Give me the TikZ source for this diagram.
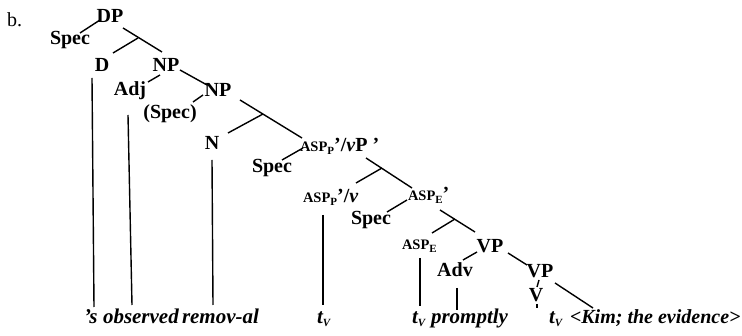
\documentclass[tikz,border=0pt]{standalone}
\usepackage{fontspec}
\setmainfont{Liberation Serif}
\usetikzlibrary{calc}
\newcommand\myasp{{\fontsize{14.5}{14.5}\selectfont ASP}}
\newcommand\mysub[1]{\raisebox{-2.5pt}{\fontsize{11}{11}\selectfont #1}}
\newcommand\mytv{\textit{t}\mysub{\textit{V}}}
\begin{document}
\begin{tikzpicture}[x=1pt,y=-1pt,
  every node/.style={inner sep=0pt,outer sep=0pt,font=\fontsize{20}{24}\selectfont\bfseries},
  lab/.style={anchor=base},
  labw/.style={anchor=base west},
  word/.style={anchor=base west,font=\fontsize{21}{24}\selectfont\bfseries\itshape},
  edge/.style={line width=1.4pt}]
\useasboundingbox (0,0) rectangle (742,336);
% labels
\node[labw,font=\fontsize{20}{24}\selectfont] (b) at (7,27) {b.};
\node[lab] (DP) at (110,23) {DP};
\node[lab] (S1) at (70,45) {Spec};
\node[lab] (D) at (102,72) {D};
\node[lab] (NP1) at (166,72) {NP};
\node[lab] (Adj) at (130,96) {Adj};
\node[lab] (NP2) at (218,97) {NP};
\node[lab] (PS) at (170,119) {(Spec)};
\node[lab] (N) at (212,150) {N};
\node[labw] (AvP) at (300,152) {\myasp\mysub{P}'/\textit{v}P '};
\node[lab] (S2) at (272,173) {Spec};
\node[labw] (Av) at (303,203) {\myasp\mysub{P}'/\textit{v}};
\node[labw] (AE1) at (408,201) {\myasp\mysub{E}'};
\node[lab] (S3) at (371,225) {Spec};
\node[labw] (AE) at (402,250) {\myasp\mysub{E}};
\node[lab] (VP1) at (490,253) {VP};
\node[lab] (Adv) at (455,277) {Adv};
\node[lab] (VP2) at (540,278) {VP};
\node[lab] (V) at (536,302) {V};
% words
\node[word] (w1) at (84,324) {'s};
\node[word] (w2) at (103,324) {observed};
\node[word] (w3) at (182,324) {remov-al};
\node[word] (w4) at (317,324) {\mytv};
\node[word] (w5) at (412,324) {\mytv};
\node[word] (w6) at (431,324) {promptly};
\node[word] (w7) at (549,324) {\mytv};
\node[word,font=\fontsize{20}{24}\selectfont\bfseries\itshape] (w8) at (570,324) {<Kim; the evidence>};
% branch points
\coordinate (Dbar) at ($(DP.base)+(28,15)$);
\coordinate (Nbar) at ($(NP2.base)+(45,17)$);
\coordinate (vbar) at ($(AvP.base west)+(82,16)$);
\coordinate (Ebar) at ($(AE1.base west)+(47,18)$);
% tree edges
\draw[edge] ($(S1.base)+(10,-12)$) -- ($(DP.base)+(-10,-3)$);
\draw[edge] ($(DP.base)+(13,5)$) -- ($(NP1.base)+(-4,-20)$);
\draw[edge] (Dbar) -- ($(D.base)+(11,-19)$);
\draw[edge] ($(NP1.base)+(-6,3)$) -- ($(Adj.base)+(18,-14)$);
\draw[edge] ($(NP1.base)+(14,-2)$) -- ($(NP2.base)+(-11,-12)$);
\draw[edge] ($(NP2.base)+(-15,-2)$) -- ($(PS.base)+(23,-17)$);
\draw[edge] ($(NP2.base)+(22,3)$) -- ($(AvP.base west)+(2,-14)$);
\draw[edge] (Nbar) -- ($(N.base)+(16,-17)$);
\draw[edge] ($(S2.base)+(10,-13)$) -- ($(AvP.base west)+(3,-4)$);
\draw[edge] ($(AvP.base west)+(66,6)$) -- ($(AE1.base west)+(4,-13)$);
\draw[edge] (vbar) -- ($(Av.base west)+(53,-20)$);
\draw[edge] ($(S3.base)+(16,-13)$) -- ($(AE1.base west)+(-1,-1)$);
\draw[edge] ($(AE1.base west)+(32,9)$) -- ($(VP1.base)+(-15,-21)$);
\draw[edge] (Ebar) -- ($(AE.base west)+(30,-17)$);
\draw[edge] ($(VP1.base)+(-13,-1)$) -- ($(Adv.base)+(8,-17)$);
\draw[edge] ($(VP1.base)+(18,0)$) -- ($(VP2.base)+(-13,-13)$);
\draw[edge] ($(VP2.base)+(-1,2)$) -- ($(V.base)+(1,-15)$);
\draw[edge] ($(VP2.base)+(15,5)$) -- ($(w8.base west)+(23,-16)$);
% lines to words
\draw[edge] ($(D.base)+(-10,6)$) -- ($(w1.base west)+(10,-17)$);
\draw[edge] ($(Adj.base)+(-2,19)$) -- ($(w2.base west)+(29,-19)$);
\draw[edge] ($(N.base)+(0,10)$) -- ($(w3.base west)+(31,-19)$);
\draw[edge] ($(Av.base west)+(20,12)$) -- ($(w4.base west)+(6,-19)$);
\draw[edge] ($(AE.base west)+(18,8)$) -- ($(w5.base west)+(8,-18)$);
\draw[edge] ($(Adv.base)+(2,11)$) -- ($(w6.base west)+(26,-14)$);
\draw[edge] ($(V.base)+(1,2)$) -- ($(w7.base west)+(-12,-16)$);
\end{tikzpicture}
\end{document}
